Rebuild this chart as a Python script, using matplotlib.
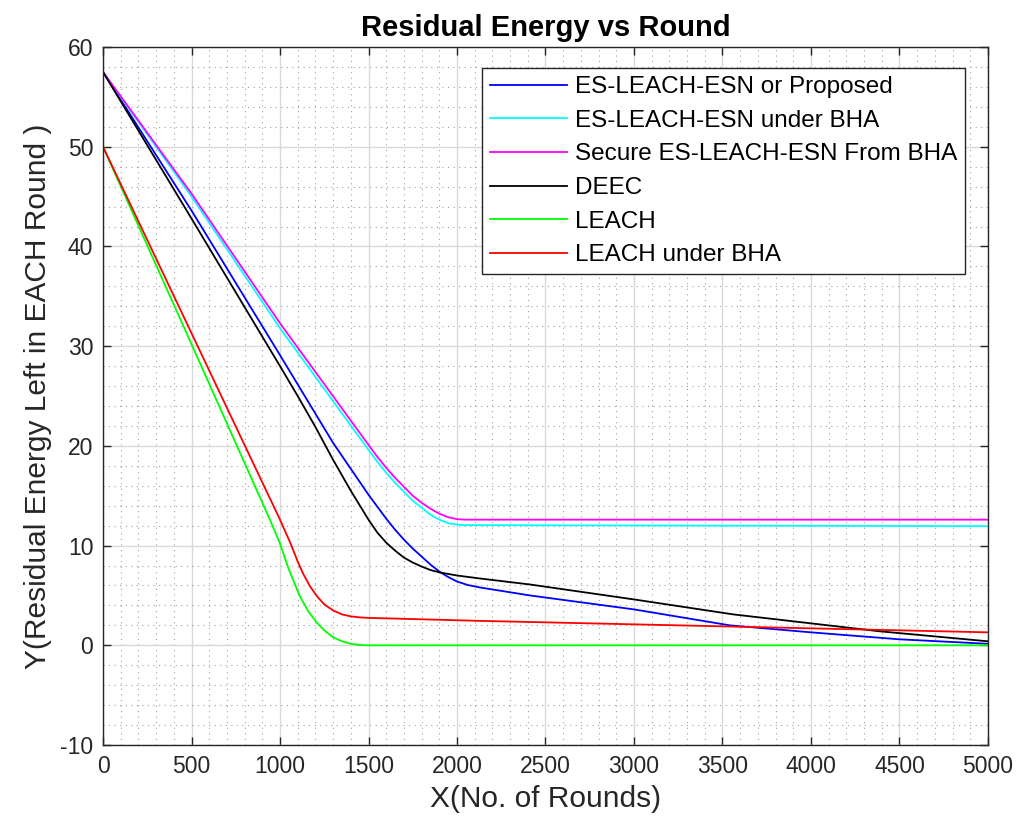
import numpy as np
from matplotlib import pyplot as plt
from matplotlib.ticker import MultipleLocator

plt.rcParams['font.family'] = ['Liberation Sans', 'DejaVu Sans']
plt.rcParams['axes.unicode_minus'] = False

# values
prop_x = [0, 500, 1000, 1300, 1500, 1550, 1600, 1650, 1700, 1750, 1800, 1850, 1900, 1950, 2000,
          2060, 2130, 2412, 3000, 3542, 4000, 4500, 5000]
prop_y = [57.5, 43.6, 29.1, 20.3, 15.1, 13.9, 12.7, 11.6, 10.6, 9.7, 8.9, 8.1, 7.4, 6.85, 6.4,
          6.05, 5.8, 5.0, 3.6, 2.0, 1.3, 0.6, 0.15]

bha_x = [0, 500, 1000, 1500, 1550, 1600, 1650, 1700, 1750, 1800, 1850, 1900, 1950, 2000, 2050, 5000]
bha_y = [57.5, 45.0, 31.8, 19.6, 18.4, 17.3, 16.3, 15.4, 14.5, 13.8, 13.1, 12.6, 12.25, 12.1, 12.05, 11.95]

secure_x = [0, 500, 1000, 1500, 1550, 1600, 1650, 1700, 1750, 1800, 1850, 1900, 1950, 2000, 2050, 5000]
secure_y = [57.5, 45.3, 32.3, 20.1, 18.9, 17.8, 16.8, 15.9, 15.0, 14.3, 13.7, 13.2, 12.85, 12.65, 12.6, 12.6]

deec_x = [0, 500, 1000, 1100, 1200, 1300, 1400, 1500, 1550, 1600, 1650, 1700, 1750, 1800, 1850,
          1904, 2000, 2130, 2412, 3000, 3561, 4390, 5000]
deec_y = [57.5, 42.8, 28.0, 25.0, 21.9, 18.6, 15.5, 12.6, 11.3, 10.3, 9.5, 8.8, 8.3, 7.9, 7.55,
          7.3, 7.0, 6.7, 6.1, 4.6, 3.1, 1.4, 0.4]

leach_x = [0, 500, 943, 1000, 1050, 1110, 1160, 1207, 1250, 1300, 1350, 1400, 1450, 1500, 5000]
leach_y = [50, 30.2, 12.6, 10.2, 7.6, 5.0, 3.4, 2.3, 1.5, 0.8, 0.4, 0.15, 0.03, 0.0, 0.0]

leach_bha_x = [0, 500, 1000, 1060, 1100, 1130, 1170, 1210, 1250, 1300, 1350, 1400, 1450, 1500, 2130, 5000]
leach_bha_y = [50, 31.3, 12.6, 10.2, 8.4, 7.2, 5.9, 4.9, 4.1, 3.5, 3.1, 2.9, 2.8, 2.75, 2.45, 1.3]

fig = plt.figure(figsize=(10.22, 8.34), dpi=100)
ax = fig.add_axes([0.1008, 0.1067, 0.8659, 0.8369])

lw = 1.3
ax.plot(prop_x, prop_y, color=(0, 0, 1), lw=lw, label='ES-LEACH-ESN or Proposed')
ax.plot(bha_x, bha_y, color=(0, 1, 1), lw=lw, label='ES-LEACH-ESN under BHA')
ax.plot(secure_x, secure_y, color=(1, 0, 1), lw=lw, label='Secure ES-LEACH-ESN From BHA')
ax.plot(deec_x, deec_y, color=(0, 0, 0), lw=lw, label='DEEC')
ax.plot(leach_x, leach_y, color=(0, 1, 0), lw=lw, label='LEACH')
ax.plot(leach_bha_x, leach_bha_y, color=(1, 0, 0), lw=lw, label='LEACH under BHA')

ax.set_xlim(0, 5000)
ax.set_ylim(-10, 60)
ax.xaxis.set_major_locator(MultipleLocator(500))
ax.yaxis.set_major_locator(MultipleLocator(10))
ax.xaxis.set_minor_locator(MultipleLocator(100))
ax.yaxis.set_minor_locator(MultipleLocator(2))

ax.grid(True, which='major', color='#d9d9d9', lw=1.0)
ax.grid(True, which='minor', color='#a0a0a0', lw=0.8, linestyle=(0, (1, 4)))
ax.set_axisbelow(True)

ax.tick_params(which='major', direction='in', top=True, right=True, length=6,
               width=1, colors='#262626', labelsize=16.5, labelcolor='#262626', pad=7)
ax.tick_params(which='minor', length=0)
for s in ax.spines.values():
    s.set_color('#262626')
    s.set_linewidth(1.0)

ax.set_xlabel('X(No. of Rounds)', fontsize=21.5, color='#262626', labelpad=5)
ax.set_ylabel('Y(Residual Energy Left in EACH Round )', fontsize=21.5, color='#262626', labelpad=6)
ax.set_title('Residual Energy vs Round', fontsize=21, fontweight='bold', pad=8)

leg = ax.legend(loc='upper right', bbox_to_anchor=(0.974, 0.970), fontsize=17.5,
                fancybox=False, framealpha=1, edgecolor='#262626',
                handlelength=3.2, handletextpad=0.3, labelspacing=0.48,
                borderpad=0.33, borderaxespad=0)
leg.get_frame().set_linewidth(1.0)

fig.savefig('out.png', dpi=100)
